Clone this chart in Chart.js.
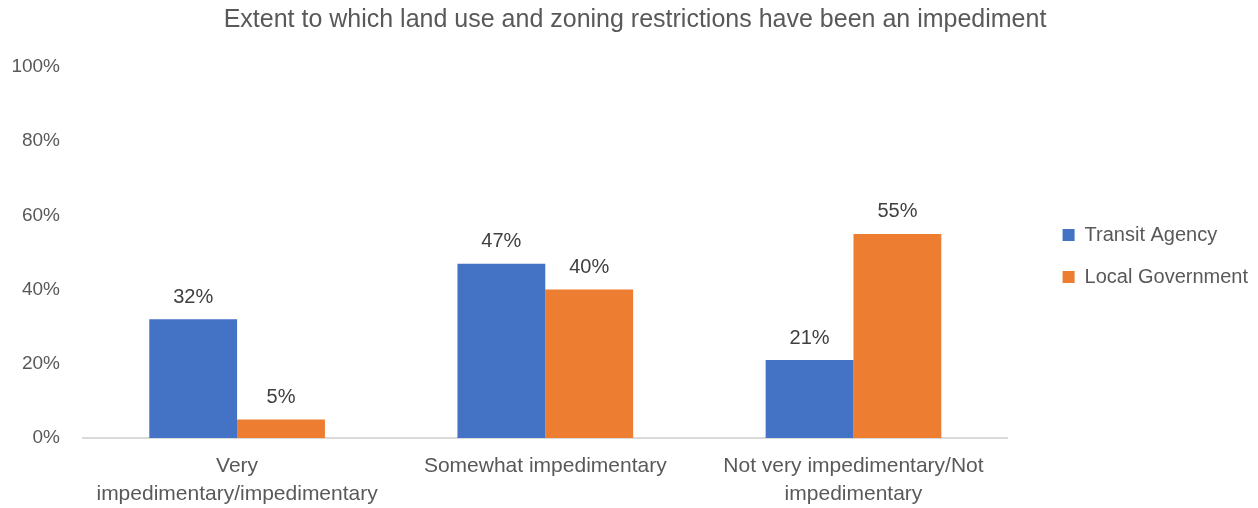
<!DOCTYPE html>
<html>
<head>
<meta charset="utf-8">
<script src="https://cdn.jsdelivr.net/npm/chart.js@4.4.4/dist/chart.umd.min.js"></script>
<style>
  html, body { margin: 0; padding: 0; background: #fff; }
  #wrap { width: 1258px; height: 508px; position: relative; }
</style>
</head>
<body>
<div id="wrap"><canvas id="chart"></canvas></div>
<script>
  const categories = [
    ['Very', 'impedimentary/impedimentary'],
    ['Somewhat impedimentary'],
    ['Not very impedimentary/Not', 'impedimentary']
  ];
  const transitAgency = [32, 47, 21];
  const localGovernment = [5, 40, 55];
  const yTicks = [0, 20, 40, 60, 80, 100];

  const FONT = "'Liberation Sans', Arial, sans-serif";
  const GRAY = '#595959';

  // draws "NN%" above each bar
  const valueLabels = {
    id: 'valueLabels',
    afterDatasetsDraw(chart) {
      const ctx = chart.ctx;
      ctx.save();
      ctx.font = '20px ' + FONT;
      ctx.fillStyle = '#404040';
      ctx.textAlign = 'center';
      ctx.textBaseline = 'middle';
      chart.data.datasets.forEach((ds, i) => {
        chart.getDatasetMeta(i).data.forEach((bar, j) => {
          ctx.fillText(ds.data[j] + '%', bar.x, bar.y - 22);
        });
      });
      ctx.restore();
    }
  };

  // push the legend away from the plot, like the original
  const legendGap = {
    id: 'legendGap',
    beforeInit(chart) {
      const fit = chart.legend.fit;
      chart.legend.fit = function () { fit.call(this); this.width += 33; };
    },
    afterLayout(chart) {
      chart.legend.left += 33;
      chart.legend.top += 4;
    }
  };

  new Chart(document.getElementById('chart'), {
    type: 'bar',
    data: {
      labels: categories,
      datasets: [
        { label: 'Transit Agency', data: transitAgency, backgroundColor: '#4472C4' },
        { label: 'Local Government', data: localGovernment, backgroundColor: '#ED7D31' }
      ]
    },
    options: {
      responsive: true, maintainAspectRatio: false, animation: false,
      categoryPercentage: 0.57, barPercentage: 1,
      layout: { padding: { top: 0, left: 12, right: 0, bottom: 0 } },
      plugins: {
        title: {
          display: true,
          text: 'Extent to which land use and zoning restrictions have been an impediment',
          color: GRAY, font: { family: FONT, size: 25, weight: 'normal' },
          padding: { top: 5, bottom: 32 }
        },
        legend: {
          position: 'right',
          labels: {
            color: GRAY, font: { family: FONT, size: 20 },
            boxWidth: 12, boxHeight: 12, padding: 22
          }
        },
        tooltip: { enabled: false }
      },
      scales: {
        x: {
          grid: { display: false },
          border: { color: '#d9d9d9', width: 2 },
          afterFit: (axis) => { axis.height = 70; },
          ticks: { color: GRAY, font: { family: FONT, size: 21, lineHeight: 1.3 }, padding: 7, maxRotation: 0, autoSkip: false }
        },
        y: {
          min: 0, max: 100,
          afterBuildTicks: (axis) => { axis.ticks = yTicks.map(v => ({ value: v })); },
          afterFit: (axis) => { axis.width = 71; },
          grid: { display: false },
          border: { display: false },
          ticks: { color: GRAY, font: { family: FONT, size: 19 }, padding: 15, callback: v => v + '%' }
        }
      }
    },
    plugins: [valueLabels, legendGap]
  });
</script>
</body>
</html>
